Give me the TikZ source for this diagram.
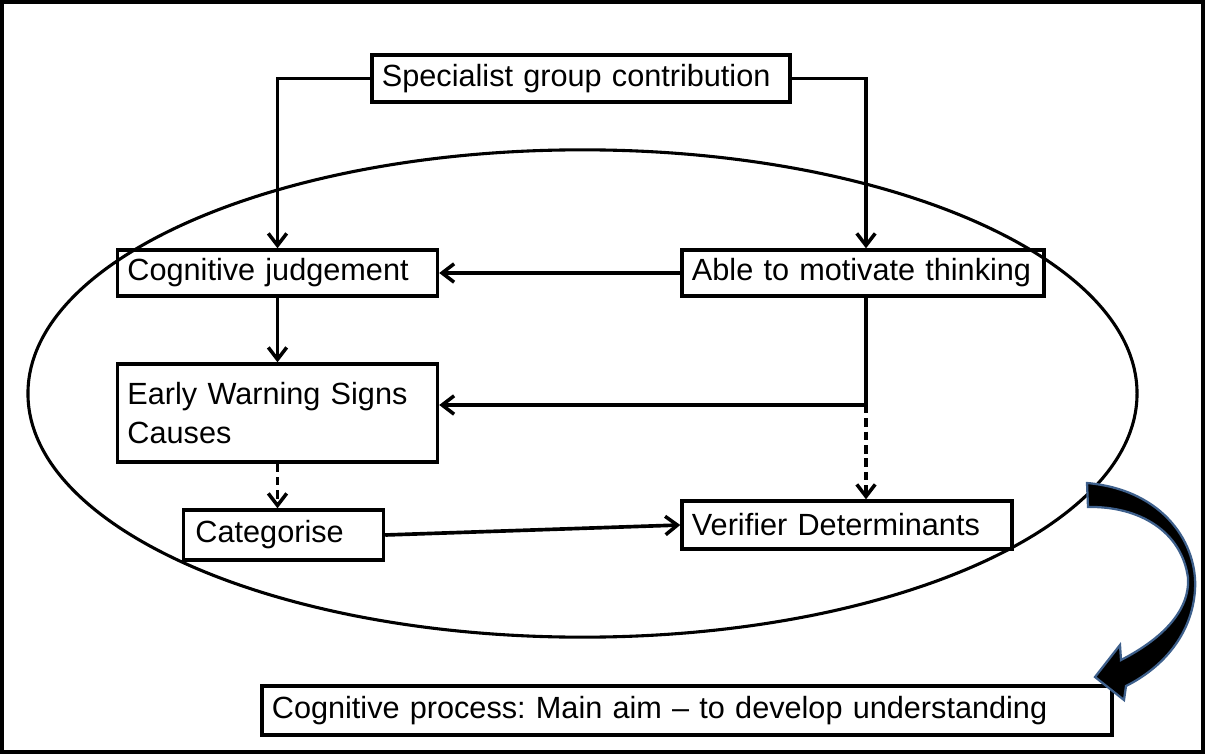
\documentclass[tikz,border=0pt]{standalone}
\usepackage{fontspec}
\setmainfont{Liberation Sans}
\usepackage{tikz}
\usetikzlibrary{arrows.meta, positioning, calc}
\usepackage{xcolor}

\definecolor{borde_azul}{RGB}{62,96,140}

\begin{document}
\begin{tikzpicture}[
		x=0.025cm, y=-0.025cm, % unidades de pixel, y hacia abajo
		% --- Estilos ---
		box/.style={
			draw,
			rectangle,
			line width=2.4pt,
			inner xsep=0.25cm,
			inner ysep=0pt,
			align=left,
			font=\fontsize{21.8}{27.7}\selectfont\frenchspacing
		},
		main_arrow/.style={
			-{Straight Barb[length=3mm, width=4.6mm, line width=2.5pt]},
			line width=2.6pt
		},
		dashed_arrow/.style={
			main_arrow,
			dash pattern=on 6pt off 3.5pt
		}
		]
		\useasboundingbox (0,0) rectangle (1205,755);
		% Marco exterior
		\draw[line width=2.6pt] (2,2) rectangle (1203,752);
		
		% 0. Elipse que agrupa el proceso
		\draw[line width=2.2pt] (582.5,393.5) ellipse [x radius=13.86cm, y radius=6.09cm];
		
		% 1. Nodos
		\node[box, text width=9.95cm, minimum height=1.175cm] (specialist) at (581,78.5) {Specialist group contribution};
		\node[box, text width=7.5cm, minimum height=1.15cm] (judgement) at (277.5,273) {Cognitive judgement};
		\node[box, text width=8.55cm, minimum height=1.15cm] (motivate) at (863,273) {Able to motivate thinking};
		\node[box, text width=7.5cm, minimum height=2.45cm] (warning) at (277.5,413) {Early Warning Signs\\Causes};
		\node[box, text width=4.4cm, inner xsep=0.3cm, minimum height=1.25cm] (categorise) at (283.5,535) {Categorise};
		\node[box, text width=7.75cm, minimum height=1.2cm] (verifier) at (847,525) {Verifier Determinants};
		\node[box, text width=20.75cm, minimum height=1.225cm] (process) at (687,710.5) {Cognitive process: Main aim -- to develop understanding};
		
		% 2. Conectores desde el grupo especialista
		\draw[main_arrow] (specialist.west) -| (judgement.north);
		\draw[main_arrow] (specialist.east) -| ($(motivate.north)+(3,0)$);
		
		% 3. Conectores internos
		\draw[main_arrow] (motivate.west) -- (judgement.east);
		\draw[main_arrow] (judgement.south) -- (warning.north);
		\coordinate (cruce) at ($(motivate.south |- 0,405)+(3,0)$);
		\draw[main_arrow] ($(motivate.south)+(3,0)$) -- (cruce) -- (warning.east |- cruce);
		\draw[dashed_arrow] (cruce) -- (cruce |- verifier.north);
		\draw[dashed_arrow] (warning.south) -- (warning.south |- categorise.north);
		\draw[main_arrow] (categorise.east) -- (verifier.west);
		
		% 4. Flecha curva hacia el proceso cognitivo
		\filldraw[fill=black, draw=borde_azul, line width=1.6pt]
		(1087,483) .. controls (1165,490) and (1198,545) .. (1195,590)
		.. controls (1192,635) and (1162,668) .. (1126,686)
		-- (1124,700) -- (1095,677) -- (1120,645) -- (1121,660)
		.. controls (1160,640) and (1190,612) .. (1188,578)
		.. controls (1182,532) and (1140,506) .. (1088,507) -- cycle;
		
	\end{tikzpicture}
\end{document}
